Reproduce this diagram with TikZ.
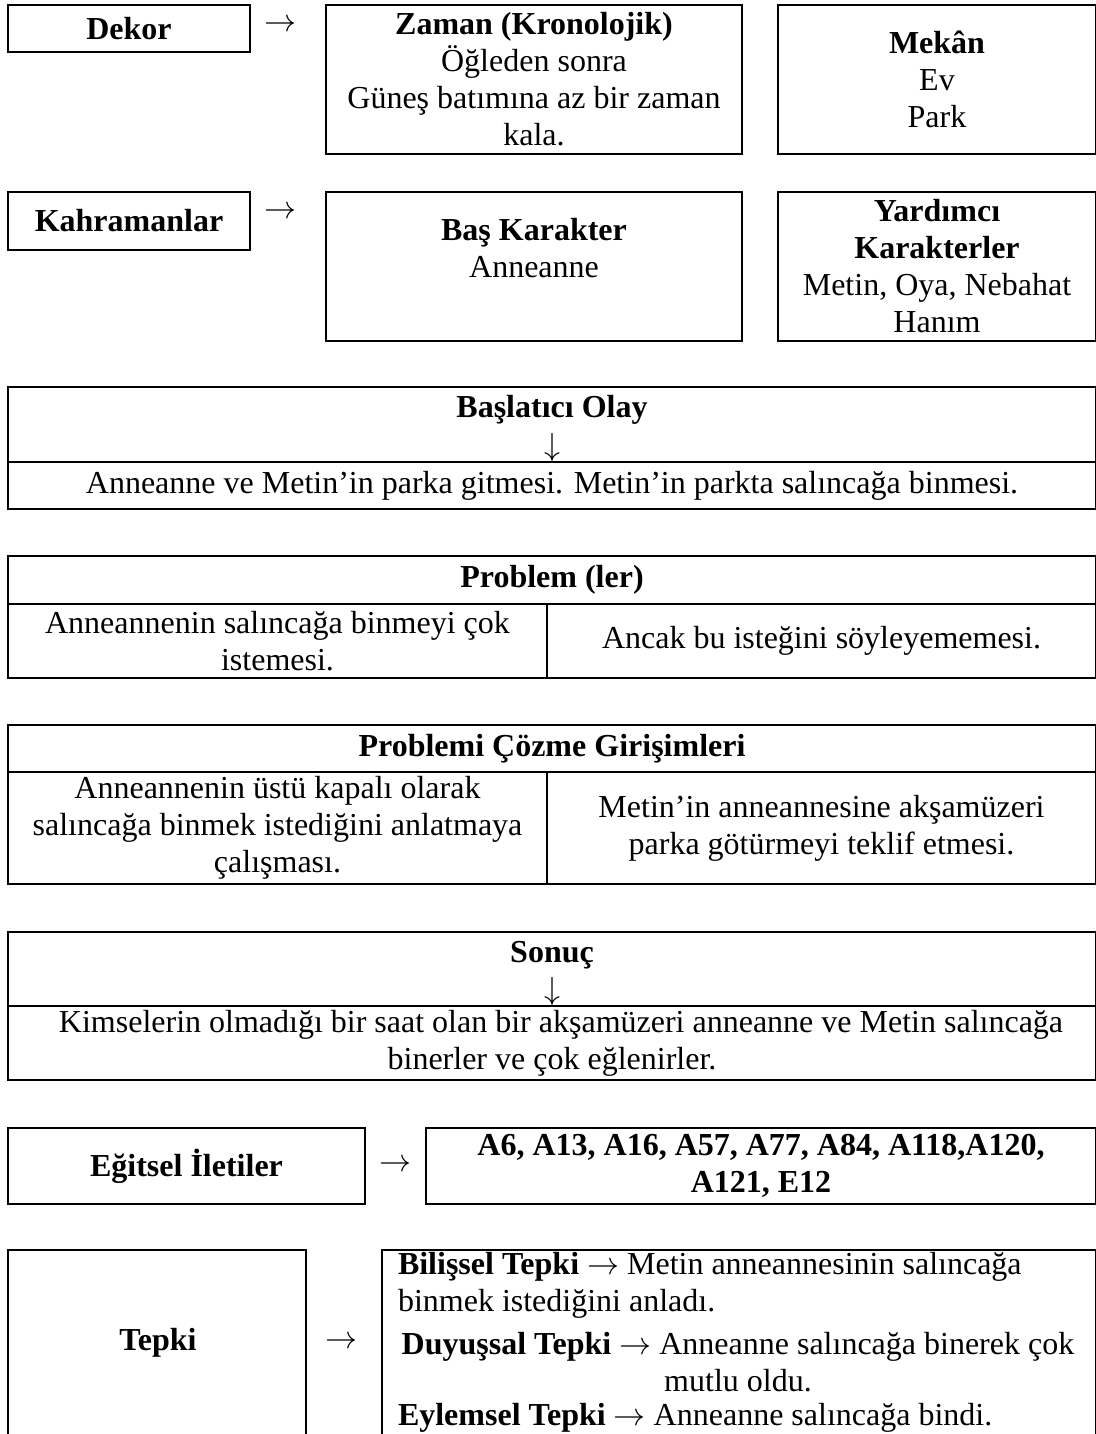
\RequirePackage{fix-cm}
\documentclass[tikz,border=0pt]{standalone}
\usepackage{fontspec}
\setmainfont{Liberation Serif}
\begin{document}
\begin{tikzpicture}[x=1pt,y=-1pt,
  every node/.style={inner sep=0pt, outer sep=0pt, font=\fontsize{32}{37}\selectfont},
  sz/.style 2 args={minimum width=#1pt, minimum height=#2pt},
  box/.style={draw, line width=2.2pt, anchor=north west, align=center},
  txt/.style={align=center}]
\useasboundingbox (0,0) rectangle (1095,1434);
% row 1
\node[box, sz={242}{47}] (dekor) at (8,5) {\textbf{Dekor}};
\node[box, sz={416}{149}] (zaman) at (326,5) {\textbf{Zaman (Kronolojik)}\\Öğleden sonra\\Güneş batımına az bir zaman\\kala.};
\node[box, sz={318}{149}] (mekan) at (778,5) {\textbf{Mekân}\\Ev\\Park};
% row 2
\node[box, sz={242}{58}] (kahr) at (8,192) {\textbf{Kahramanlar}};
\node[box, sz={416}{149}] (bas) at (326,192) {};
\node[box, sz={318}{149}] (yard) at (778,192) {\textbf{Yardımcı}\\\textbf{Karakterler}\\Metin, Oya, Nebahat\\Hanım};
% başlatıcı
\node[box, sz={1088}{75}] (bashdr) at (8,387) {};
\node[box, sz={1088}{47}] (basbody) at (8,462) {Anneanne ve Metin’in parka gitmesi. Metin’in parkta salıncağa binmesi.};
% problem
\node[box, sz={1088}{48}] (probhdr) at (8,556) {\textbf{Problem (ler)}};
\node[box, sz={539}{74}] (probl) at (8,604) {Anneannenin salıncağa binmeyi çok\\istemesi.};
\node[box, sz={549}{74}] (probr) at (547,604) {Ancak bu isteğini söyleyememesi.};
% çözme
\node[box, sz={1088}{47}] (cozhdr) at (8,725) {\textbf{Problemi Çözme Girişimleri}};
\node[box, sz={539}{112}] (cozl) at (8,772) {Anneannenin üstü kapalı olarak\\salıncağa binmek istediğini anlatmaya\\çalışması.};
\node[box, sz={549}{112}] (cozr) at (547,772) {Metin’in anneannesine akşamüzeri\\parka götürmeyi teklif etmesi.};
% sonuç
\node[box, sz={1088}{74}] (sonhdr) at (8,932) {};
\node[box, sz={1088}{74}] (sonbody) at (8,1006) {\hspace*{18pt}Kimselerin olmadığı bir saat olan bir akşamüzeri anneanne ve Metin salıncağa\\binerler ve çok eğlenirler.};
% eğitsel
\node[box, sz={357}{76}] (egit) at (8,1128) {\textbf{Eğitsel İletiler}};
\node[box, sz={670}{76}] (ileti) at (426,1128) {\textbf{A6, A13, A16, A57, A77, A84, A118,A120,}\\\textbf{A121, E12}};
% tepki
\node[box, sz={298}{200}] (tepki) at (8,1250) {};
\node[box, sz={714}{200}] (tepkir) at (382,1250) {};
% free texts
\node[txt] (bastxt) at (534,248) {\textbf{Baş Karakter}\\Anneanne};
\node[txt] (basltitle) at (552,410) {\textbf{Başlatıcı Olay}};
\node[txt] (baslarr) at (552,447) {$\downarrow$};
\node[txt] (sontitle) at (552,955) {\textbf{Sonuç}};
\node[txt] (sonarr) at (552,991) {$\downarrow$};
\node[txt] (tepkitxt) at (158,1343) {\textbf{Tepki}};
\node[txt] (a1) at (280,26) {$\rightarrow$};
\node[txt] (a2) at (280,213) {$\rightarrow$};
\node[txt] (a3) at (395,1166) {$\rightarrow$};
\node[txt] (a4) at (341,1343) {$\rightarrow$};
\node[align=left, anchor=west] (bil) at (398,1285) {\textbf{Bilişsel Tepki} $\rightarrow$ Metin anneannesinin salıncağa\\binmek istediğini anladı.};
\node[align=center] (duy) at (738,1362) {\textbf{Duyuşsal Tepki} $\rightarrow$ Anneanne salıncağa binerek çok\\mutlu oldu.};
\node[align=left, anchor=west] (eyl) at (398,1418) {\textbf{Eylemsel Tepki} $\rightarrow$ Anneanne salıncağa bindi.};
\end{tikzpicture}
\end{document}
